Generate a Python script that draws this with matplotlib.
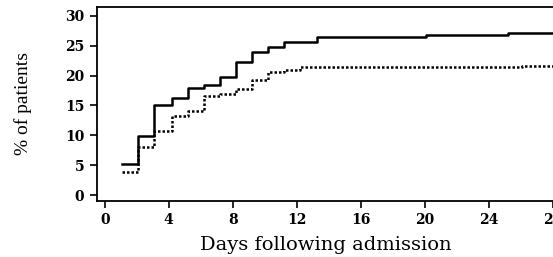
import matplotlib.pyplot as plt

# ---------- DATA ----------
# step times (days) and cumulative % of patients, step drawn "post"
solid_days = [1.1, 2.1, 3.1, 4.2, 5.2, 6.2, 7.2, 8.2, 9.2, 10.2, 11.2, 13.3, 20.1, 25.2, 28.2]
solid_pct = [5.2, 9.8, 15.0, 16.2, 18.0, 18.5, 19.7, 22.3, 23.9, 24.8, 25.6, 26.5, 26.8, 27.1, 27.1]

dotted_days = [1.1, 2.1, 3.1, 4.2, 5.2, 6.2, 7.2, 8.2, 9.2, 10.2, 11.2, 12.2, 26.1, 28.2]
dotted_pct = [3.9, 8.0, 10.7, 13.2, 14.0, 16.6, 17.0, 17.7, 19.3, 20.6, 21.0, 21.4, 21.6, 21.6]

x_ticks = [0, 4, 8, 12, 16, 20, 24, 28]
y_ticks = [0, 5, 10, 15, 20, 25, 30]
# ---------------------------------------------------

fig = plt.figure(figsize=(5.53, 2.57), dpi=100)
ax = fig.add_axes([0.175, 0.218, 0.83, 0.755])

ax.step(solid_days, solid_pct, where="post", color="black", linewidth=1.8)
ax.step(dotted_days, dotted_pct, where="post", color="black", linewidth=1.8,
        linestyle=(0, (1, 0.8)))

ax.set_xlim(-0.5, 28.2)
ax.set_ylim(-1.0, 31.5)
ax.set_xticks(x_ticks)
ax.set_yticks(y_ticks)

tick_font = {"family": "DejaVu Serif", "weight": "bold", "size": 10}
ax.set_xticklabels([str(t) for t in x_ticks], fontdict=tick_font)
ax.set_yticklabels([str(t) for t in y_ticks], fontdict=tick_font)
ax.tick_params(direction="out", length=5, width=1.2, pad=4)

ax.spines["right"].set_visible(False)
for side in ["left", "bottom", "top"]:
    ax.spines[side].set_linewidth(1.3)

ax.set_xlabel("Days following admission", family="DejaVu Serif", size=14, labelpad=6)
ax.set_ylabel("% of patients", family="Liberation Serif", size=14, labelpad=24)

fig.savefig("out.png", dpi=100)
